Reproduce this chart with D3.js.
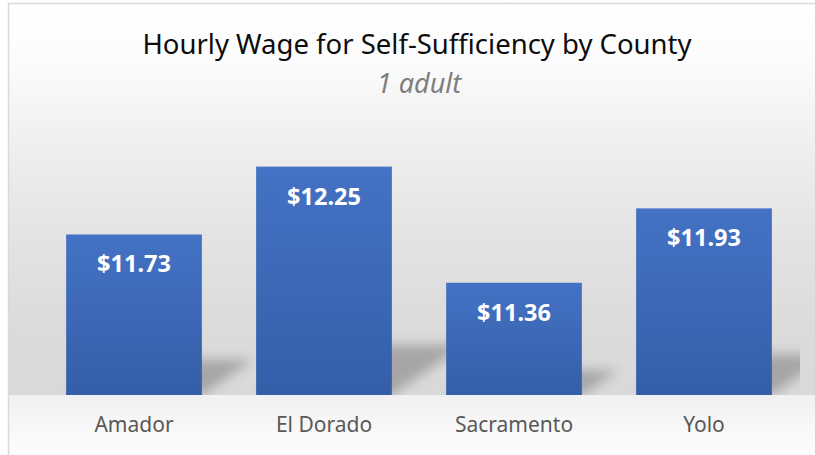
<!DOCTYPE html>
<html>
<head>
<meta charset="utf-8">
<script src="https://cdn.jsdelivr.net/npm/d3@7"></script>
<style>
    html, body { margin: 0; padding: 0; background: #ffffff; }
    #viz_wage { width: 815px; height: 455px; overflow: hidden; }
    text { font-family: 'Noto Sans', 'Open Sans', sans-serif; }
</style>
</head>
<body>
<div id="viz_wage"></div>
<script>
///// DATOS //////
let counties = ['Amador', 'El Dorado', 'Sacramento', 'Yolo'];
let wages = [11.73, 12.25, 11.36, 11.93];
let chartTitle = 'Hourly Wage for Self-Sufficiency by County';
let chartSubtitle = '1 adult';

let margin = {top: 134, right: 15, bottom: 60, left: 39};

wageChart();

function wageChart() {
    let chartBlock = d3.select('#viz_wage');
    let fullWidth = 815, fullHeight = 455;
    let width = fullWidth - margin.left - margin.right - 1,
        height = fullHeight - margin.top - margin.bottom;

    let svg = chartBlock.append('svg')
        .attr('width', fullWidth)
        .attr('height', fullHeight);

    let defs = svg.append('defs');

    //Fondo degradado del área del gráfico
    let baseY = margin.top + height;
    let bg = defs.append('linearGradient')
        .attr('id', 'bgGrad')
        .attr('gradientUnits', 'userSpaceOnUse')
        .attr('x1', 0).attr('x2', 0)
        .attr('y1', 3).attr('y2', fullHeight);
    let bgStops = [
        [3, '#ffffff'], [60, '#fcfcfc'], [150, '#eeeeee'], [250, '#e2e2e2'],
        [330, '#dbdbdb'], [baseY, '#d9d9d9'], [baseY, '#f1f1f1'], [fullHeight, '#fdfdfd']
    ];
    bgStops.forEach(function(s) {
        bg.append('stop')
            .attr('offset', (s[0] - 3) / (fullHeight - 3))
            .attr('stop-color', s[1]);
    });

    //Degradado de las barras
    let barGrad = defs.append('linearGradient')
        .attr('id', 'barGrad')
        .attr('x1', 0).attr('x2', 0).attr('y1', 0).attr('y2', 1);
    barGrad.append('stop').attr('offset', 0).attr('stop-color', '#4472c4');
    barGrad.append('stop').attr('offset', 1).attr('stop-color', '#345ea8');

    defs.append('filter')
        .attr('id', 'shadowBlur')
        .attr('x', '-50%').attr('y', '-50%').attr('width', '200%').attr('height', '200%')
        .append('feGaussianBlur')
        .attr('stdDeviation', 6);

    defs.append('clipPath')
        .attr('id', 'plotClip')
        .append('rect')
        .attr('x', 0).attr('y', -margin.top)
        .attr('width', width + 1)
        .attr('height', height + margin.top);

    svg.append('rect')
        .attr('x', 8.5)
        .attr('y', 3.5)
        .attr('width', fullWidth)
        .attr('height', fullHeight)
        .attr('fill', 'url(#bgGrad)')
        .attr('stroke', '#d9d9d9')
        .attr('stroke-width', 1.5);

    //Títulos
    svg.append('text')
        .attr('x', 417)
        .attr('y', 54)
        .attr('text-anchor', 'middle')
        .attr('font-size', '27.5px')
        .attr('fill', '#0d0d0d')
        .text(chartTitle);

    svg.append('text')
        .attr('x', 419)
        .attr('y', 93)
        .attr('text-anchor', 'middle')
        .attr('font-size', '27px')
        .attr('font-style', 'italic')
        .attr('fill', '#7f7f7f')
        .text(chartSubtitle);

    let chart = svg.append('g')
        .attr('transform', 'translate(' + margin.left + ',' + margin.top + ')');

    //Eje X
    let x = d3.scaleBand()
        .domain(counties)
        .range([0, width])
        .paddingInner(0.2857)
        .paddingOuter(0.1429);

    //Eje Y (no visible)
    let y = d3.scaleLinear()
        .domain([10.5, 12.5])
        .range([height, 0]);

    let data = counties.map(function(c, i) { return {county: c, wage: wages[i]}; });

    //Sombras en perspectiva
    chart.append('g')
        .attr('clip-path', 'url(#plotClip)')
        .selectAll('path')
        .data(data)
        .join('path')
        .attr('fill', '#000')
        .attr('fill-opacity', 0.24)
        .attr('filter', 'url(#shadowBlur)')
        .attr('d', function(d) {
            let x0 = x(d.county), x1 = x0 + x.bandwidth();
            let h = height - y(d.wage);
            let dx = h * 0.32, dy = h * 0.22;
            return 'M' + x0 + ',' + height +
                'L' + x1 + ',' + height +
                'L' + (x1 + dx) + ',' + (height - dy) +
                'L' + (x0 + dx) + ',' + (height - dy) + 'Z';
        });

    //Barras
    chart.append('g')
        .selectAll('rect')
        .data(data)
        .join('rect')
        .attr('x', d => x(d.county))
        .attr('y', d => y(d.wage))
        .attr('width', x.bandwidth())
        .attr('height', d => height - y(d.wage))
        .attr('fill', 'url(#barGrad)');

    //Etiquetas de valor
    chart.append('g')
        .selectAll('text')
        .data(data)
        .join('text')
        .attr('x', d => x(d.county) + x.bandwidth() / 2)
        .attr('y', d => y(d.wage) + 38)
        .attr('text-anchor', 'middle')
        .attr('font-size', '23.5px')
        .attr('font-weight', 'bold')
        .attr('fill', '#ffffff')
        .text(d => '$' + d3.format('.2f')(d.wage));

    //Etiquetas de categoría
    chart.append('g')
        .attr('transform', 'translate(0,' + height + ')')
        .call(d3.axisBottom(x).tickSize(0).tickPadding(0))
        .call(g => g.select('.domain').remove())
        .call(g => g.selectAll('text')
            .attr('y', 37)
            .attr('dy', null)
            .attr('font-family', null)
            .attr('font-size', '21px')
            .attr('fill', '#595959'));
}
</script>
</body>
</html>
